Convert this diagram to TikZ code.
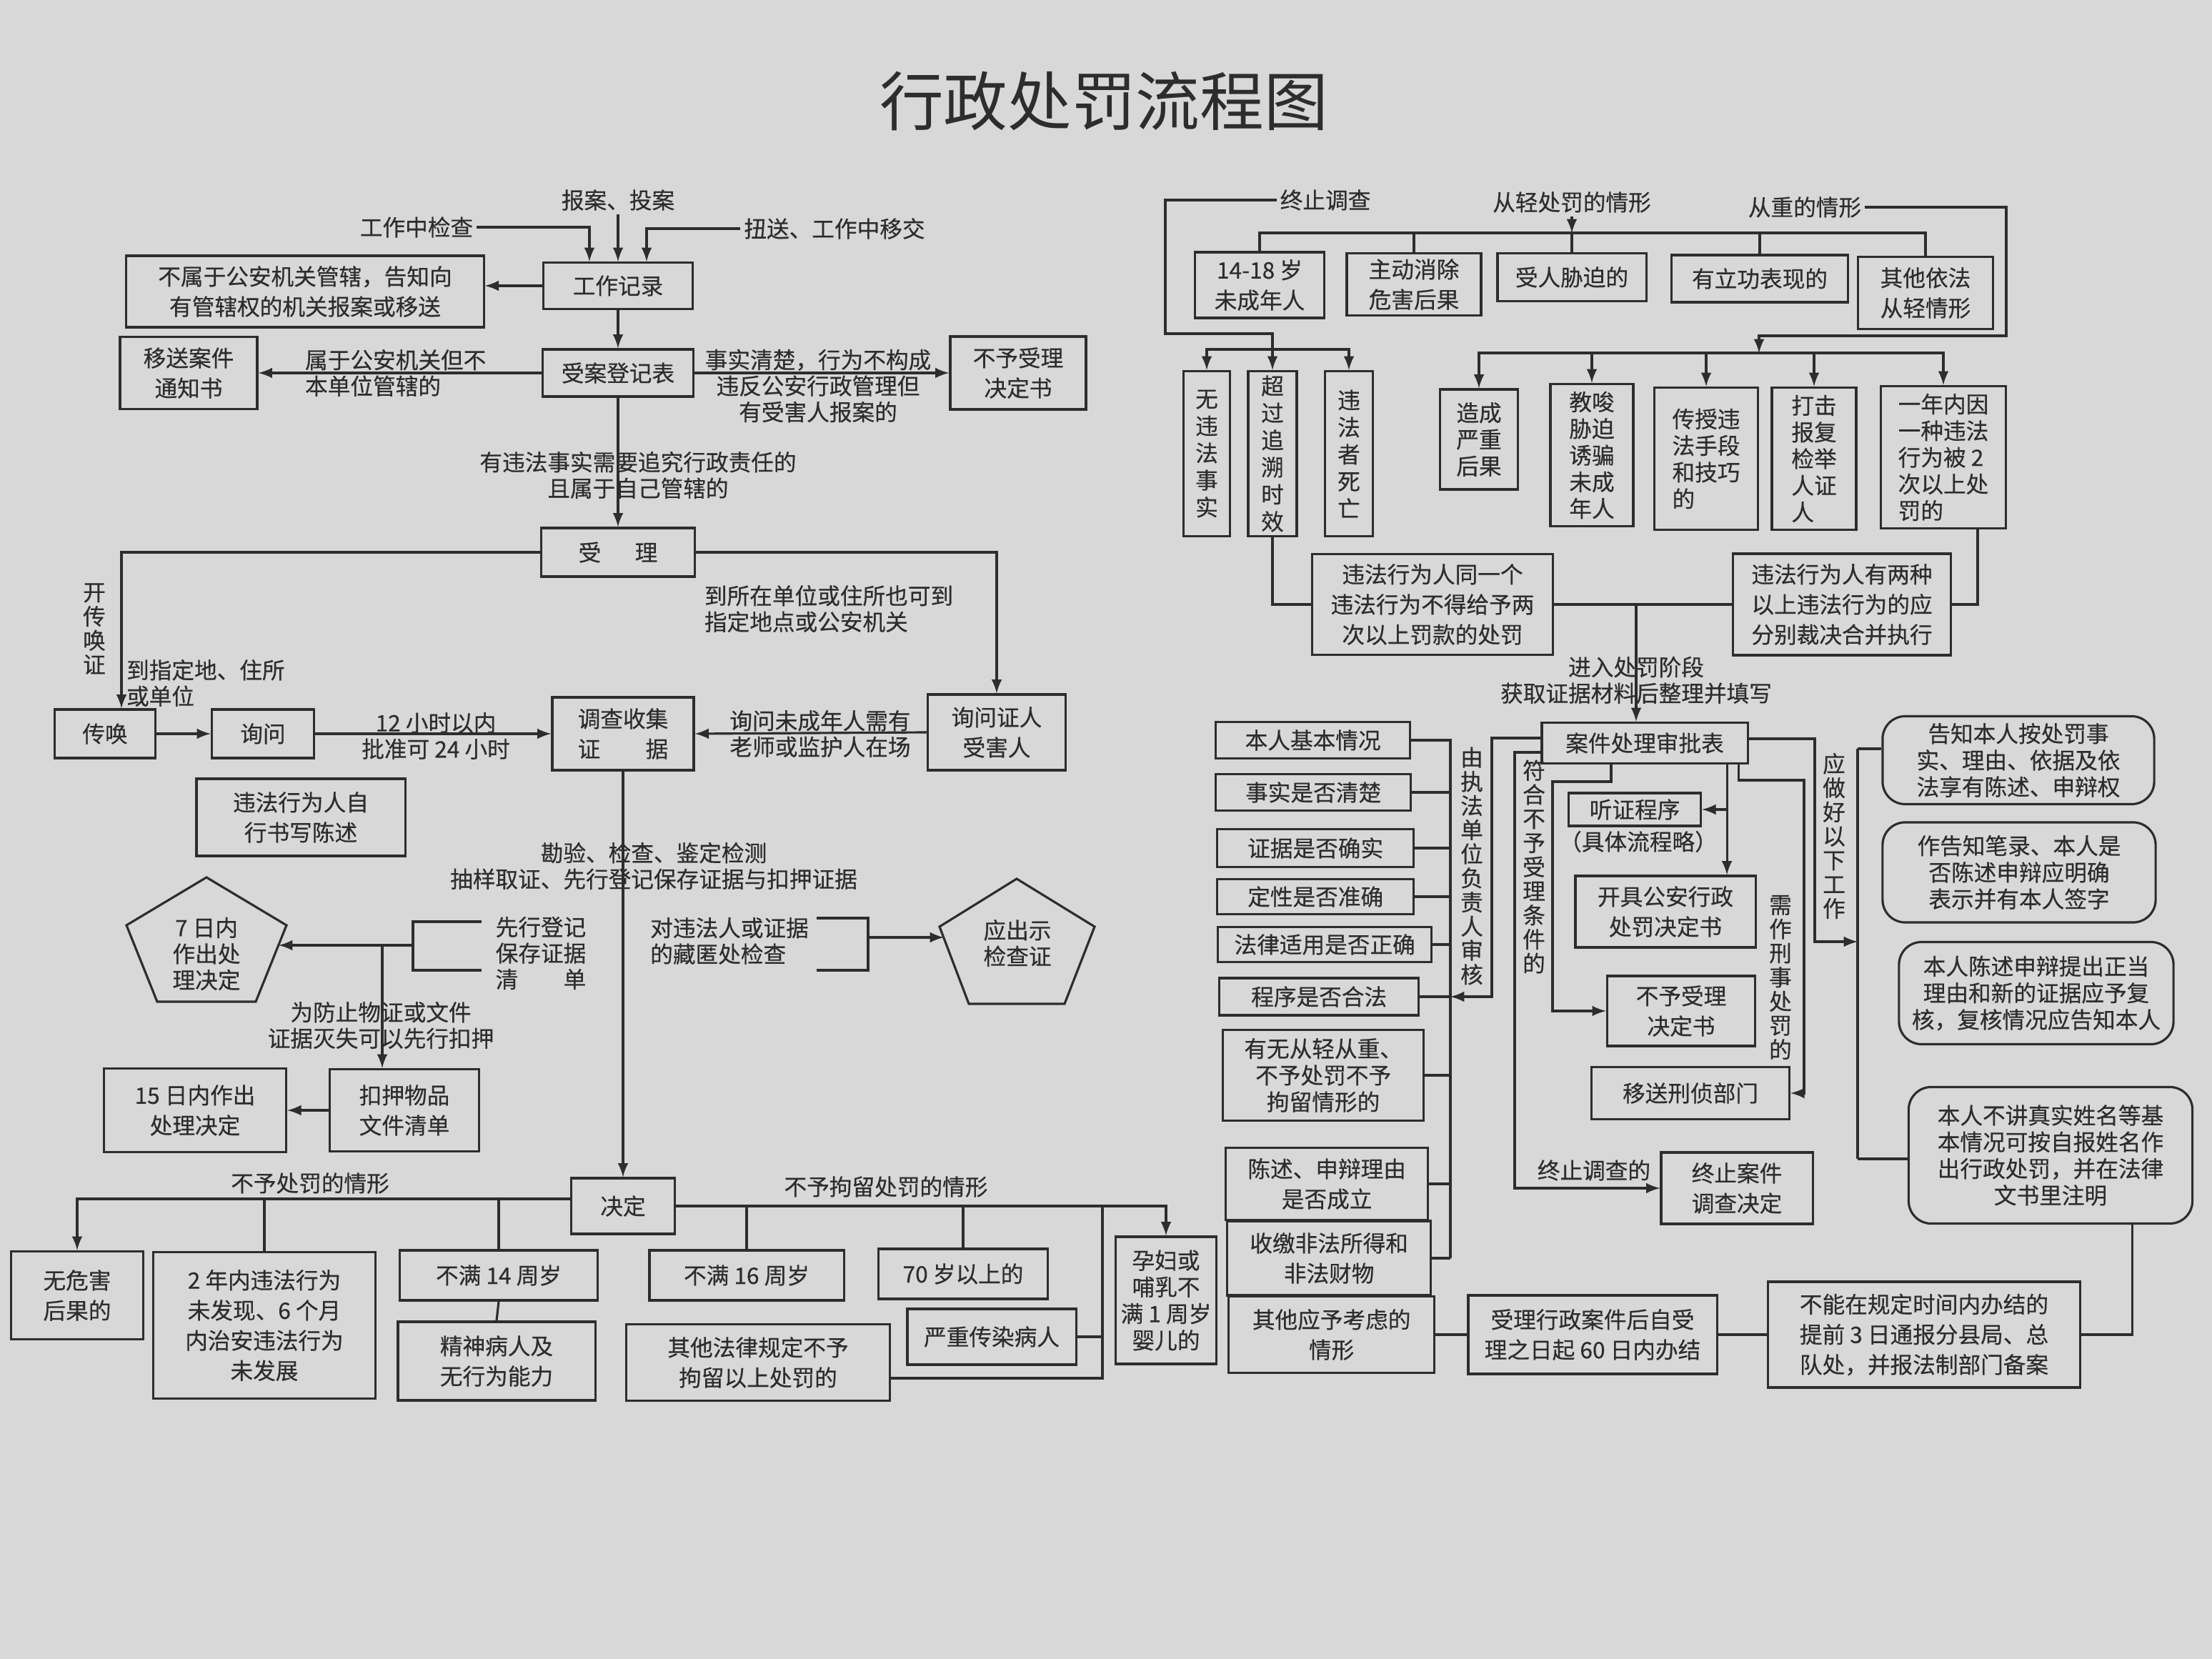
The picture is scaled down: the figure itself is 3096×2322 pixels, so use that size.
\documentclass[tikz,border=0pt]{standalone}
\usepackage{fontspec}
\setmainfont{Noto Sans CJK SC}[FakeBold=0.4]
\newfontfamily\titlefont{Noto Sans CJK SC}
\definecolor{bgc}{RGB}{216,216,216}
\definecolor{ink}{RGB}{45,45,45}

\begin{document}
\begin{tikzpicture}[x=0.01cm, y=-0.01cm, line width=0.9pt, color=ink,
    font=\fontsize{9pt}{12pt}\selectfont,
    box/.style={draw, align=center, inner sep=2pt},
    rbox/.style={box, rounded corners=9pt, font=\fontsize{9pt}{10.6pt}\selectfont},
    tall/.style={font=\fontsize{9pt}{10.6pt}\selectfont},
    vbox/.style={box, inner sep=1pt, font=\fontsize{9pt}{10.8pt}\selectfont},
    lbl/.style={align=center, inner sep=1pt, font=\fontsize{9pt}{10.4pt}\selectfont},
    vlbl/.style={align=center, inner sep=1pt, font=\fontsize{9pt}{9.6pt}\selectfont},
    wh/.style 2 args={minimum width=#1cm, minimum height=#2cm}]
  \useasboundingbox (0,0) rectangle (3096,2322);
  \fill[bgc] (0,0) rectangle (3096,2322);

  \node[font=\titlefont\fontsize{25.5pt}{28pt}\selectfont] (title) at (1545,142) {行政处罚流程图};

  % 受案
  \node[lbl] (tBaoan) at (865,280) {报案、投案};
  \node[lbl] (tJiancha) at (583,318) {工作中检查};
  \node[lbl] (tNiusong) at (1168,320) {扭送、工作中移交};
  \node[box, wh={2.09}{0.65}] (gzjl) at (865,400) {工作记录};
  \node[box, wh={5.0}{1.0}] (bsy) at (427,408) {不属于公安机关管辖，告知向\\有管辖权的机关报案或移送};
  \node[box, wh={2.11}{0.66}] (sadj) at (865,522) {受案登记表};
  \node[box, wh={1.92}{1.01}] (ysaj) at (264,522) {移送案件\\通知书};
  \node[box, wh={1.90}{1.02}] (bysl) at (1425,522) {不予受理\\决定书};
  \node[box, wh={2.15}{0.68}] (sl) at (865,773) {受\hspace{1.5em}理};
  \draw[-latex] (tBaoan) -- (gzjl.north);
  \draw[-latex] (tJiancha.east) -| ([xshift=-0.4cm]gzjl.north);
  \draw[-latex] (tNiusong.west) -| ([xshift=0.4cm]gzjl.north);
  \draw[-latex] (gzjl.west) -- (gzjl.west -| bsy.east);
  \draw[-latex] (gzjl.south) -- (sadj.north);
  \draw[-latex] (sadj.west) -- (ysaj.east);
  \draw[-latex] (sadj.east) -- (bysl.west);
  \draw[-latex] (sadj.south) -- (sl.north);
  \node[lbl, align=left, anchor=west] (tBbdw) at (422,522) {属于公安机关但不\\本单位管辖的};
  \node[lbl] (tSsqc) at (1145,540) {事实清楚，行为不构成\\违反公安行政管理但\\有受害人报案的};
  \node[lbl] (tYwf) at (893,665) {有违法事实需要追究行政责任的\\且属于自己管辖的};

  % 调查
  \node[box, wh={1.41}{0.68}] (chuanhuan) at (147,1027) {传唤};
  \node[box, wh={1.43}{0.68}] (xunwen) at (368,1027) {询问};
  \node[box, wh={1.98}{1.02}] (dcqz) at (872,1027) {调查收集\\证\hspace{2em}据};
  \node[box, wh={1.93}{1.06}] (xwzr) at (1395,1025) {询问证人\\受害人};
  \node[box, wh={2.92}{1.08}] (zxss) at (421,1144) {违法行为人自\\行书写陈述};
  \draw[-latex] (sl.west) -| ([xshift=0.23cm]chuanhuan.north);
  \draw[-latex] (sl.east) -| (xwzr.north);
  \draw[-latex] (chuanhuan.east) -- (xunwen.west);
  \draw[-latex] (xunwen.east) -- (dcqz.west);
  \draw[-latex] (xwzr.west) -- (dcqz.east);
  \node[vlbl] (tKchz) at (132,880) {开\\传\\唤\\证};
  \node[lbl, align=left, anchor=west] (tDzdd) at (172,956) {到指定地、住所\\或单位};
  \node[lbl, align=left] (tDszd) at (1160,852) {到所在单位或住所也可到\\指定地点或公安机关};
  \node[lbl] (t12xs) at (610,1030) {12 小时以内\\批准可 24 小时};
  \node[lbl] (tWcnr) at (1148,1027) {询问未成年人需有\\老师或监护人在场};

  % 取证
  \node[lbl] (kyjc) at (915,1212) {勘验、检查、鉴定检测\\抽样取证、先行登记保存证据与扣押证据};
  \node[lbl] (qiri) at (289,1335) {7 日内\\作出处\\理决定};
  \draw (289,1228) -- (401,1295) -- (358,1402) -- (220,1402) -- (177,1295) -- cycle;
  \coordinate (qiriE) at (390,1323);
  \node[lbl] (xxdj) at (757,1334) {先行登记\\保存证据\\清\hspace{2em}单};
  \draw (674,1290) -| (578,1358) -- (674,1358);
  \coordinate (xxbr) at (578,1323);
  \coordinate (kybr) at (535,1323);
  \draw[-latex] (xxbr) -- (qiriE);
  \node[lbl] (fzmz) at (533,1435) {为防止物证或文件\\证据灭失可以先行扣押};
  \node[box, wh={2.09}{1.15}] (kouya) at (566,1554) {扣押物品\\文件清单};
  \node[box, wh={2.55}{1.17}] (shiwu) at (273,1554) {15 日内作出\\处理决定};
  \draw[-latex] (kybr) -- (kybr |- kouya.north);
  \draw[-latex] (kouya.west) -- (shiwu.east);
  \node[lbl, align=left] (dwfr) at (1021,1317) {对违法人或证据\\的藏匿处检查};
  \draw (1143,1285) -| (1215,1358) -- (1143,1358);
  \coordinate (dwbr) at (1215,1312);
  \node[lbl] (ycjc) at (1424,1320) {应出示\\检查证};
  \draw (1423,1230) -- (1532,1297) -- (1490,1405) -- (1356,1405) -- (1315,1297) -- cycle;
  \coordinate (ycjcW) at (1321,1312);
  \draw[-latex] (dwbr) -- (ycjcW);

  % 决定
  \node[box, wh={1.45}{0.78}] (jueding) at (872,1688) {决定};
  \draw[-latex] (dcqz.south) -- (jueding.north);
  \node[box, wh={1.85}{1.23}] (whh) at (108,1813) {无危害\\后果的};
  \node[box, wh={3.11}{2.05}] (ernian) at (370,1855) {2 年内违法行为\\未发现、6 个月\\内治安违法行为\\未发展};
  \node[box, wh={2.77}{0.70}] (bm14) at (698,1785) {不满 14 周岁};
  \node[box, wh={2.76}{1.10}] (jsb) at (695,1905) {精神病人及\\无行为能力};
  \coordinate (jdl) at ([yshift=0.1cm]jueding.west);
  \draw[-latex] (jdl) -| (whh.north);
  \draw (ernian.north) -- (ernian.north |- jdl);
  \draw (bm14.north) -- (bm14.north |- jdl);
  \draw (bm14.south) -- (jsb.north);
  \node[lbl] (tBycf) at (434,1656) {不予处罚的情形};
  \node[box, wh={1.35}{1.78}, tall] (yunfu) at (1632,1820) {孕妇或\\哺乳不\\满 1 周岁\\婴儿的};
  \node[box, wh={2.72}{0.70}] (bm16) at (1045,1785) {不满 16 周岁};
  \node[box, wh={2.37}{0.70}] (qishi) at (1348,1783) {70 岁以上的};
  \node[box, wh={2.36}{0.78}] (crb) at (1388,1871) {严重传染病人};
  \node[box, wh={3.68}{1.07}] (qtfl) at (1061,1907) {其他法律规定不予\\拘留以上处罚的};
  \draw[-latex] (jueding.east) -| (yunfu.north);
  \draw (bm16.north) -- (bm16.north |- jueding.east);
  \draw (qishi.north) -- (qishi.north |- jueding.east);
  \coordinate (jlv) at (1543,1688);
  \draw (jlv) |- ([yshift=-0.22cm]qtfl.east);
  \draw (crb.east) -- (crb.east -| jlv);
  \node[lbl] (tBjl) at (1240,1661) {不予拘留处罚的情形};

  % 终止调查 / 从轻 / 从重
  \node[lbl] (tZzdc) at (1855,280) {终止调查};
  \node[vbox, wh={0.65}{2.31}] (wwfs) at (1689,635) {无\\违\\法\\事\\实};
  \node[vbox, wh={0.68}{2.31}] (cgzs) at (1781,635) {超\\过\\追\\溯\\时\\效};
  \node[vbox, wh={0.67}{2.31}] (wfsw) at (1888,635) {违\\法\\者\\死\\亡};
  \draw[-latex] (tZzdc.west) -| (1631,467) -| (cgzs.north);
  \coordinate (zzb) at (1781,489);
  \draw[-latex] (zzb) -| (wwfs.north);
  \draw[-latex] (zzb) -| (wfsw.north);

  \node[lbl] (tCq) at (2200,283) {从轻处罚的情形};
  \coordinate (cqb) at (2200,326);
  \draw[-latex] (tCq.south) -- (cqb);
  \node[box, wh={1.81}{0.92}] (c1418) at (1763,399) {14-18 岁\\未成年人};
  \node[box, wh={1.88}{0.87}] (zdxc) at (1979,398) {主动消除\\危害后果};
  \node[box, wh={2.08}{0.67}] (srxp) at (2200,388) {受人胁迫的};
  \node[box, wh={2.47}{0.66}] (ylgx) at (2463,390) {有立功表现的};
  \node[box, wh={1.89}{1.01}] (qtcq) at (2695,410) {其他依法\\从轻情形};
  \draw (c1418.north) |- (cqb) -| (qtcq.north);
  \foreach \n in {zdxc,srxp,ylgx} \draw (\n.north) -- (\n.north |- cqb);

  \node[lbl] (tCz) at (2526,290) {从重的情形};
  \coordinate (czb) at (2462,494);
  \draw[-latex] (tCz.east) -| (2808,470) -| (czb);
  \node[box, wh={1.09}{1.40}, tall] (zcyz) at (2070,615) {造成\\严重\\后果};
  \node[box, wh={1.16}{1.99}, tall] (jstp) at (2228,637) {教唆\\胁迫\\诱骗\\未成\\年人};
  \node[box, wh={1.45}{1.99}, tall, align=left] (csff) at (2388,642) {传授违\\法手段\\和技巧\\的};
  \node[box, wh={1.18}{1.99}, tall, align=left] (djbf) at (2539,642) {打击\\报复\\检举\\人证\\人};
  \node[box, wh={1.75}{1.99}, tall, align=left] (ynny) at (2720,640) {一年内因\\一种违法\\行为被 2\\次以上处\\罚的};
  \foreach \n in {zcyz,jstp,csff,djbf,ynny} \draw[-latex] (czb) -| (\n.north);

  \node[box, wh={3.37}{1.41}] (tyxw) at (2005,846) {违法行为人同一个\\违法行为不得给予两\\次以上罚款的处罚};
  \node[box, wh={3.05}{1.42}] (lzyx) at (2578,846) {违法行为人有两种\\以上违法行为的应\\分别裁决合并执行};
  \draw (cgzs.south) |- (tyxw.west);
  \draw ([xshift=0.48cm]ynny.south) |- (lzyx.east);
  \draw (tyxw.east) -- (lzyx.west);

  % 审批
  \coordinate (jrcf) at (2290,846);
  \node[box, wh={2.88}{0.57}] (spb) at (2302,1040) {案件处理审批表};
  \draw[-latex] (jrcf) -- (jrcf |- spb.north);
  \node[lbl] (tJrcf) at (2290,952) {进入处罚阶段\\获取证据材料后整理并填写};

  \node[box, anchor=west, wh={2.72}{0.51}] (brjb) at (1700,1036) {本人基本情况};
  \node[box, anchor=west, wh={2.73}{0.51}] (sfqc) at (1700,1109) {事实是否清楚};
  \node[box, anchor=west, wh={2.75}{0.53}] (zjqs) at (1702,1187) {证据是否确实};
  \node[box, anchor=west, wh={2.75}{0.49}] (dxzq) at (1702,1255) {定性是否准确};
  \node[box, anchor=west, wh={2.99}{0.49}] (flsy) at (1703,1322) {法律适用是否正确};
  \node[box, anchor=west, wh={2.79}{0.52}] (cxhf) at (1705,1395) {程序是否合法};
  \node[box, anchor=west, wh={2.81}{1.27}, tall] (ywcq) at (1710,1505) {有无从轻从重、\\不予处罚不予\\拘留情形的};
  \node[box, anchor=west, wh={2.83}{1.01}] (csly) at (1714,1657) {陈述、申辩理由\\是否成立};
  \node[box, anchor=west, wh={2.85}{1.04}] (sjff) at (1716,1761) {收缴非法所得和\\非法财物};
  \node[box, anchor=west, wh={2.88}{1.07}] (qtyy) at (1718,1868) {其他应予考虑的\\情形};
  \coordinate (shb) at (2030,1761);
  \draw (brjb.east) -| (shb);
  \foreach \n in {sfqc,zjqs,dxzq,flsy,cxhf,ywcq,csly,sjff} \draw (\n.east) -- (\n.east -| shb);
  \node[vlbl] (tShenhe) at (2060,1212) {由\\执\\法\\单\\位\\负\\责\\人\\审\\核};
  \draw[-latex] ([yshift=0.07cm]spb.west) -| (2088,1395) -- (cxhf.east -| shb);

  \node[vlbl] (tFuhe) at (2147,1213) {符\\合\\不\\予\\受\\理\\条\\件\\的};
  \node[box, wh={2.12}{1.00}] (zzaj) at (2431,1663) {终止案件\\调查决定};
  \draw[-latex] ([yshift=-0.13cm]spb.west) -| (2120,1663) -- (zzaj.west);
  \node[lbl] (tZzdcd) at (2231,1638) {终止调查的};

  \node[box, wh={1.85}{0.46}] (tzcx) at (2288,1133) {听证程序};
  \node[lbl] (tJtlc) at (2293,1178) {（具体流程略）};
  \node[box, wh={2.52}{1.00}] (kjcf) at (2331,1276) {开具公安行政\\处罚决定书};
  \node[box, wh={2.07}{0.98}] (bysl2) at (2353,1415) {不予受理\\决定书};
  \node[box, wh={2.77}{0.73}] (ysxz) at (2366,1530) {移送刑侦部门};
  \draw[-latex] ([xshift=-0.47cm]spb.south) |- (2173,1094) |- (bysl2.west);
  \draw[-latex] ([xshift=1.15cm]spb.south) coordinate (spd) -- (spd |- kjcf.north);
  \draw[-latex] (spd |- tzcx.east) -- (tzcx.east);
  \draw[-latex] ([xshift=1.31cm]spb.south) |- (2525,1092) |- (ysxz.east);
  \node[vlbl] (tXzxs) at (2492,1368) {需\\作\\刑\\事\\处\\罚\\的};

  % 应做好以下工作
  \coordinate (ygtop) at (2600,1048);
  \coordinate (ygmid) at (2600,1318);
  \coordinate (ygbot) at (2600,1622);
  \draw[-latex] ([yshift=0.06cm]spb.east) -| (2540,1318) -- (ygmid);
  \node[vlbl] (tYzh) at (2567,1170) {应\\做\\好\\以\\下\\工\\作};
  \node[rbox, wh={3.80}{1.23}] (gzbr) at (2825,1064) {告知本人按处罚事\\实、理由、依据及依\\法享有陈述、申辩权};
  \node[rbox, wh={3.82}{1.40}] (zgzb) at (2826,1221) {作告知笔录、本人是\\否陈述申辩应明确\\表示并有本人签字};
  \node[rbox, wh={3.84}{1.43}] (brcs) at (2850,1390) {本人陈述申辩提出正当\\理由和新的证据应予复\\核，复核情况应告知本人};
  \node[rbox, wh={3.97}{1.91}] (brbj) at (2870,1617) {本人不讲真实姓名等基\\本情况可按自报姓名作\\出行政处罚，并在法律\\文书里注明};
  \draw (ygtop) -- (ygbot);
  \draw (ygtop) -- (ygtop -| gzbr.west);
  \draw (ygbot) -- (ygbot -| brbj.west);

  % 期限
  \node[box, wh={3.48}{1.10}] (sl60) at (2229,1868) {受理行政案件后自受\\理之日起 60 日内办结};
  \node[box, wh={4.37}{1.48}] (bngd) at (2693,1868) {不能在规定时间内办结的\\提前 3 日通报分县局、总\\队处，并报法制部门备案};
  \draw (qtyy.east) -- (sl60.west);
  \draw (sl60.east) -- (bngd.west);
  \draw (bngd.east) -| ([xshift=1.14cm]brbj.south);
\end{tikzpicture}
\end{document}
